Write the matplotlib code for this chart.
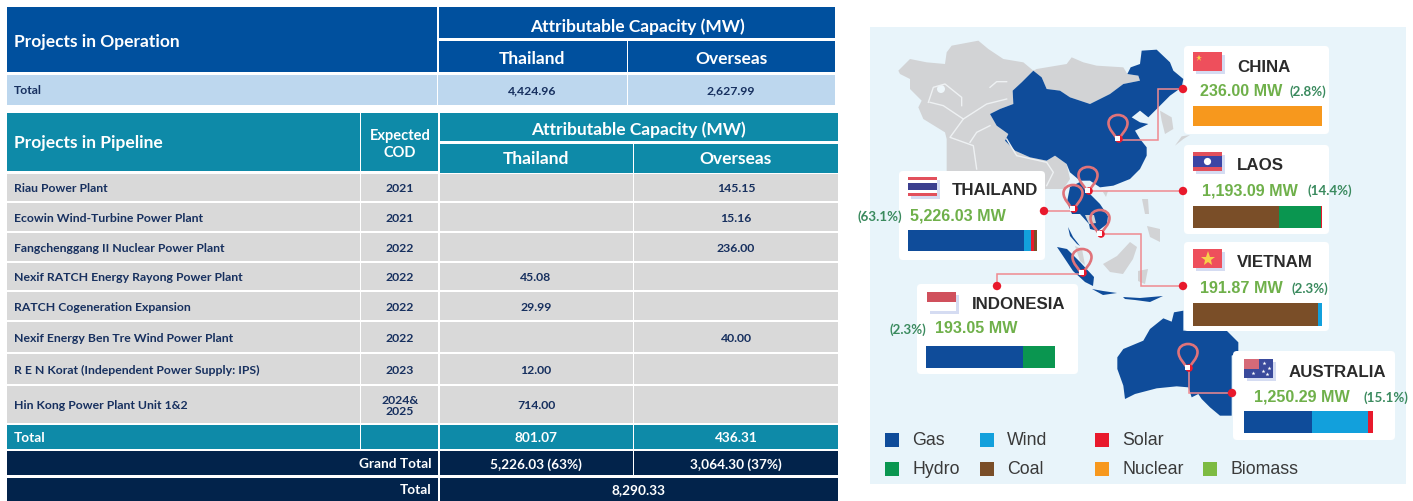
import matplotlib
matplotlib.use("Agg")
import matplotlib.pyplot as plt
from matplotlib.patches import Rectangle, FancyBboxPatch, Polygon, Circle, PathPatch
from matplotlib.path import Path

plt.rcParams['font.family'] = ['Lato', 'DejaVu Sans']

# table contents
OP_THAILAND = "4,424.96"
OP_OVERSEAS = "2,627.99"
projects = ["Riau Power Plant", "Ecowin Wind-Turbine Power Plant", "Fangchenggang II Nuclear Power Plant",
            "Nexif RATCH Energy Rayong Power Plant", "RATCH Cogeneration Expansion",
            "Nexif Energy Ben Tre Wind Power Plant", "R E N Korat (Independent Power Supply: IPS)",
            "Hin Kong Power Plant Unit 1&2"]
cod = ["2021", "2021", "2022", "2022", "2022", "2022", "2023", "2024&\n2025"]
pipe_thailand = ["", "", "", "45.08", "29.99", "", "12.00", "714.00"]
pipe_overseas = ["145.15", "15.16", "236.00", "", "", "40.00", "", ""]
pipe_total = ["801.07", "436.31"]
grand_total = ["5,226.03 (63%)", "3,064.30 (37%)"]
overall_total = "8,290.33"

# country cards, fuel shares in % of each bar
fuels = ["Gas", "Wind", "Solar", "Hydro", "Coal", "Nuclear", "Biomass"]
fuel_colors = ["#0f4c9a", "#12a0dc", "#e8192c", "#0a9650", "#7a4e28", "#f7981d", "#7dbb42"]
countries = ["CHINA", "LAOS", "THAILAND", "VIETNAM", "INDONESIA", "AUSTRALIA"]
capacity = ["236.00 MW", "1,193.09 MW", "5,226.03 MW", "191.87 MW", "193.05 MW", "1,250.29 MW"]
percent = ["(2.8%)", "(14.4%)", "(63.1%)", "(2.3%)", "(2.3%)", "(15.1%)"]
mix = [
    {"Nuclear": 100},
    {"Coal": 67, "Hydro": 32, "Solar": 1},
    {"Gas": 90, "Wind": 5, "Solar": 3, "Coal": 2},
    {"Coal": 97, "Wind": 3},
    {"Gas": 75, "Hydro": 25},
    {"Gas": 53, "Wind": 43, "Solar": 4},
]

china = [(300,225),(330,210),(370,195),(368,155),(395,130),(430,95),(455,115),(470,150),(510,155),(540,175),
         (600,195),(660,165),(700,135),(750,125),(745,110),(712,105),(722,85),(750,75),(755,35),(800,32),(840,70),
         (850,95),(880,120),(875,145),(840,170),(810,200),(775,235),(750,215),(725,235),(750,250),(775,255),
         (735,275),(750,300),(770,325),(770,350),(750,390),(720,420),(670,440),(630,445),(600,425),(570,425),
         (540,400),(530,375),(495,350),(470,365),(420,355),(375,335),(345,305),(355,285),(320,260)]
grey_asia = [(25,95),(60,60),(110,70),(165,75),(170,40),(185,20),(265,5),(295,30),(340,60),(400,70),(430,95),
             (440,90),(530,75),(545,55),(580,70),(620,80),(700,85),(712,105),(745,110),(750,125),(700,135),(660,165),
             (600,195),(540,175),(510,155),(470,150),(455,115),(430,95),(395,130),(368,155),(370,195),(330,210),
             (300,225),(320,260),(355,285),(345,305),(375,335),(420,355),(470,365),(495,350),(530,375),(540,420),
             (520,450),(170,450),(170,300),(165,280),(100,240),(85,205),(95,185),(60,150),(60,120),(30,105)]
korea = [(810,215),(845,235),(850,270),(825,285),(815,245)]
japan = [(855,320),(875,292),(900,288),(880,300)]
borders = [[(115,190),(130,145),(165,135),(215,175),(215,200)],
           [(120,190),(160,200),(220,240),(290,195),(350,180)],
           [(220,240),(180,295),(250,320),(260,390)],
           [(300,260),(260,280),(240,310)],
           [(350,300),(380,350),(470,370),(490,400),(470,440)],
           [(300,145),(320,128),(350,128)]]
# outline from the 3x crop of the south part (see south_pts)
australia = [(52,175),(70,150),(130,125),(150,90),(190,58),(215,68),(222,40),(250,35),(250,95),(380,95),(415,130),
             (415,160),(395,170),(395,350),(360,350),(330,325),(305,300),(295,285),(275,295),(265,265),(230,262),
             (170,268),(105,285),(75,300),(70,260),(52,210)]
# outlines read straight in picture pixels
indochina = [(1070,188),(1080,183),(1088,193),(1100,205),(1108,217),(1107,225),(1098,232),(1090,230),(1089,225),
             (1080,215),(1072,215),(1067,203)]
cambodia = [(1085,216),(1094,216),(1096,224),(1089,225)]
peninsula = [(1068,228),(1073,238),(1080,247),(1077,245),(1070,237)]
sumatra = [(1057,248),(1067,250),(1080,263),(1094,278),(1093,287),(1085,283),(1073,272)]
java = [(1092,290),(1103,292),(1117,294),(1103,296)]
sunda = [(1123,298),(1140,299),(1163,297),(1150,303),(1135,301),(1125,300)]
borneo = [(1103,265),(1117,257),(1130,243),(1137,248),(1133,260),(1123,275),(1110,273)]
luzon = [(1142,200),(1148,200),(1149,215),(1145,215)]
mindanao = [(1147,227),(1160,230),(1160,243),(1150,238)]
sulawesi = [(1138,272),(1148,270),(1145,285),(1138,282)]
malaya = [(1075,247),(1082,250),(1085,266),(1080,262)]
hainan = [(1103,193),(1108,192),(1106,198)]

fig = plt.figure(figsize=(14.13, 5.02), dpi=100)
ax = fig.add_axes([0, 0, 1, 1])
ax.set_xlim(0, 1413)
ax.set_ylim(502, 0)
ax.axis('off')

BLUE = "#00509e"
TEAL = "#0e8aa8"
NAVY = "#02234b"
LIGHT = "#bdd7ee"
GREY = "#d9d9d9"
DARKTXT = "#17305f"


def cell(x0, y0, x1, y1, color):
    ax.add_patch(Rectangle((x0, y0), x1 - x0, y1 - y0, facecolor=color, edgecolor='none'))


def label(x, y, s, size=8.8, color='white', ha='center', **kw):
    ax.text(x, y + 0.5, s, fontsize=size, color=color, ha=ha, va='center', fontweight='bold', **kw)


# --- operation table ---
cell(7, 8, 437, 73, BLUE)
cell(439, 8, 835, 39, BLUE)
cell(439, 42, 626.5, 73, BLUE)
cell(627.5, 42, 835, 73, BLUE)
label(14, 41, "Projects in Operation", 12.5, ha='left')
label(637, 26, "Attributable Capacity (MW)", 12.5)
label(532, 58, "Thailand", 12.5)
label(731, 59, "Overseas", 12.5)
cell(7, 76, 437, 106, LIGHT)
cell(438, 76, 626.5, 106, LIGHT)
cell(627.5, 76, 835, 106, LIGHT)
label(14, 90, "Total", 8.8, DARKTXT, ha='left')
label(532, 90, OP_THAILAND, 8.8, DARKTXT)
label(731, 90, OP_OVERSEAS, 8.8, DARKTXT)

# --- pipeline table ---
cell(7, 114, 360, 172, TEAL)
cell(361, 114, 438, 172, TEAL)
cell(440, 114, 838, 142, TEAL)
cell(440, 145, 632.5, 174, TEAL)
cell(633.5, 145, 838, 174, TEAL)
label(14, 143, "Projects in Pipeline", 12.5, ha='left')
label(400, 144, "Expected\nCOD", 10.5, linespacing=1.25)
label(638, 129, "Attributable Capacity (MW)", 12.5)
label(536, 159, "Thailand", 12.5)
label(736, 159, "Overseas", 12.5)

edges = [174, 203, 233, 263, 292, 322, 354, 386, 425]
for i, name in enumerate(projects):
    y0, y1 = edges[i] + 1, edges[i + 1] - 1
    yc = (y0 + y1) / 2
    cell(7, y0, 360, y1, GREY)
    cell(361, y0, 438, y1, GREY)
    cell(440, y0, 632.5, y1, GREY)
    cell(633.5, y0, 838, y1, GREY)
    label(14, yc, name, 8.8, DARKTXT, ha='left')
    label(400, yc, cod[i], 8.8, DARKTXT, linespacing=1.1)
    label(536, yc, pipe_thailand[i], 8.8, DARKTXT)
    label(736, yc, pipe_overseas[i], 8.8, DARKTXT)

cell(7, 426, 360, 450, TEAL)
cell(361, 426, 438, 450, TEAL)
cell(440, 426, 632.5, 450, TEAL)
cell(633.5, 426, 838, 450, TEAL)
label(14, 438, "Total", 9.8, ha='left')
label(536, 438, pipe_total[0], 9.8)
label(736, 438, pipe_total[1], 9.8)

cell(7, 452, 438, 476, NAVY)
cell(440, 452, 632.5, 476, NAVY)
cell(633.5, 452, 838, 476, NAVY)
label(432, 464, "Grand Total", 9.8, ha='right')
label(536, 464, grand_total[0], 9.8)
label(736, 464, grand_total[1], 9.8)

cell(7, 479, 438, 502, NAVY)
cell(440, 479, 838, 502, NAVY)
label(432, 490, "Total", 9.8, ha='right')
label(638, 490, overall_total, 9.8)

# --- map panel ---
cell(870, 28, 1406, 485, "#e8f4fa")


def north_pts(pts):
    return [(890 + x / 3, 40 + y / 3) for x, y in pts]


def south_pts(pts):
    return [(1100 + x / 3, 300 + y / 3) for x, y in pts]


MAP_GREY = "#d2d3d5"
MAP_BLUE = "#0f4c9a"
for shape in [north_pts(grey_asia), north_pts(korea), north_pts(japan), borneo, luzon, mindanao, sulawesi, malaya,
              hainan]:
    ax.add_patch(Polygon(shape, closed=True, facecolor=MAP_GREY, edgecolor='none'))
for line in borders:
    xs, ys = zip(*north_pts(line))
    ax.plot(xs, ys, color="#eef1f3", lw=1)
ax.add_patch(Circle((941, 90), 4, facecolor="#eef6fa", edgecolor='none'))
for shape in [north_pts(china), south_pts(australia), indochina, peninsula, sumatra, java, sunda]:
    ax.add_patch(Polygon(shape, closed=True, facecolor=MAP_BLUE, edgecolor='none'))
ax.add_patch(Polygon(cambodia, closed=True, facecolor=MAP_GREY, edgecolor='none'))

RED = "#e8192c"
LINE = "#ef8a90"


def connector(pts):
    xs, ys = zip(*pts)
    ax.plot(xs, ys, color=LINE, lw=1.1, solid_joinstyle='miter')
    ax.add_patch(Circle(pts[-1], 4.2, facecolor=RED, edgecolor='none', zorder=4))


def pin(x, y):
    # balloon shaped marker, (x, y) is the bottom tip
    verts = [(x, y), (x - 3, y - 7), (x - 9.5, y - 11), (x - 9.5, y - 18), (x - 9.5, y - 23), (x - 5, y - 26),
             (x, y - 26), (x + 5, y - 26), (x + 9.5, y - 23), (x + 9.5, y - 18), (x + 9.5, y - 11), (x + 3, y - 7),
             (x, y)]
    codes = [Path.MOVETO] + [Path.CURVE4] * 12
    ax.add_patch(PathPatch(Path(verts, codes), facecolor='none', edgecolor="#e0737a", lw=1.9, zorder=5))
    ax.add_patch(Circle((x + 1, y - 2), 3.8, facecolor=RED, edgecolor='none', zorder=5))
    ax.add_patch(Rectangle((x - 3, y - 5), 4.5, 4.5, facecolor='white', edgecolor='none', zorder=6))


connector([(1118, 141), (1158, 141), (1158, 90), (1183, 90)])
connector([(1090, 192), (1183, 192)])
connector([(1070, 212), (1044, 212)])
connector([(1102, 235), (1141, 235), (1141, 287), (1183, 287)])
connector([(1082, 275), (997, 275), (997, 287)])
connector([(1189, 371), (1189, 394), (1232, 394)])
for px, py in [(1118, 142), (1088, 194), (1073, 212), (1100, 237), (1082, 276), (1188, 371)]:
    pin(px, py)

# cards, in the same order as the country lists
card_boxes = [(1184, 47, 1329, 135), (1184, 146, 1329, 235), (899, 172, 1045, 261),
              (1184, 243, 1329, 332), (917, 285, 1078, 375), (1233, 352, 1395, 441)]
flag_pos = [(1193, 53), (1193, 153), (908, 178), (1193, 250), (927, 293), (1244, 360)]
title_pos = [(1237, 67), (1237, 166), (952, 191), (1237, 263), (972, 305), (1289, 373)]
cap_pos = [(1200, 92), (1202, 191), (910, 216), (1200, 289), (935, 329), (1254, 397)]
pct_pos = [(1290, 92), (1308, 191), (858, 217), (1291, 289), (889, 330), (1364, 398)]
bar_pos = [(1193, 107, 20), (1193, 207, 22), (908, 231, 21), (1193, 304, 23), (926, 347, 22), (1244, 412, 22)]
BAR_W = 129


def flag(name, x, y, w=29, h=19):
    ax.add_patch(Rectangle((x + 3, y + 3), w, h, facecolor="#d5dcf2", edgecolor='none', zorder=6))
    if name == "LAOS":
        bands = [(0, .22, "#e2505c"), (.22, .56, "#3b45a5"), (.78, .22, "#e2505c")]
    elif name == "THAILAND":
        bands = [(0, .16, "#e2505c"), (.16, .17, "white"), (.33, .34, "#3b3f8f"), (.67, .17, "white"),
                 (.84, .16, "#e2505c")]
    elif name == "INDONESIA":
        bands = [(0, .5, "#d0505c"), (.5, .5, "white")]
    elif name == "AUSTRALIA":
        bands = [(0, 1, "#3a4a9c")]
    else:
        bands = [(0, 1, "#ee4f5c")]
    for start, frac, col in bands:
        ax.add_patch(Rectangle((x, y + start * h), w, frac * h, facecolor=col, edgecolor='none', zorder=7))
    if name == "LAOS":
        ax.add_patch(Circle((x + w / 2, y + h / 2), 3.6, facecolor='white', edgecolor='none', zorder=8))
    if name == "CHINA":
        ax.plot(x + 6, y + 6, marker='*', ms=5, color="#f7d04a", mew=0, zorder=8)
    if name == "VIETNAM":
        ax.plot(x + w / 2, y + h / 2, marker='*', ms=11, color="#f7d04a", mew=0, zorder=8)
    if name == "AUSTRALIA":
        ax.add_patch(Rectangle((x, y), w * .5, h * .5, facecolor="#d66a78", edgecolor='none', zorder=8))
        for sx, sy in [(.7, .2), (.85, .45), (.65, .65), (.8, .8), (.3, .75)]:
            ax.plot(x + sx * w, y + sy * h, marker='*', ms=3, color='white', mew=0, zorder=8)


for i, name in enumerate(countries):
    x0, y0, x1, y1 = card_boxes[i]
    ax.add_patch(FancyBboxPatch((x0 + 2, y0 + 2), x1 - x0 - 4, y1 - y0 - 4, boxstyle="round,pad=2,rounding_size=4",
                                facecolor='white', edgecolor='none', zorder=3))
    flag(name, *flag_pos[i])
    ax.text(*title_pos[i], name, fontsize=12.2, fontweight='bold', color="#2b2b2b", va='center', ha='left',
            family='Liberation Sans', zorder=9)
    ax.text(*cap_pos[i], capacity[i], fontsize=11.6, fontweight='bold', color="#6fb04a", va='center', ha='left',
            family='Liberation Sans', zorder=9)
    ax.text(*pct_pos[i], percent[i], fontsize=9.6, fontweight='bold', color="#3a8a5e", va='center', ha='left', zorder=9)
    bx, by, bh = bar_pos[i]
    left = 0
    for fuel, share in mix[i].items():
        w = share / 100 * BAR_W
        ax.barh(by + bh / 2, w, height=bh, left=bx + left, color=fuel_colors[fuels.index(fuel)], zorder=8)
        left += w

# legend
legend_x = {"Gas": 885, "Wind": 980, "Solar": 1095, "Hydro": 885, "Coal": 980, "Nuclear": 1095, "Biomass": 1203}
legend_y = {"Gas": 441, "Wind": 441, "Solar": 441, "Hydro": 470, "Coal": 470, "Nuclear": 470, "Biomass": 470}
for fuel, col in zip(fuels, fuel_colors):
    lx, ly = legend_x[fuel], legend_y[fuel]
    ax.add_patch(Rectangle((lx, ly - 7), 14, 14, facecolor=col, edgecolor='none', zorder=3))
    ax.text(lx + 27, ly, fuel, fontsize=12.8, color="#3a3a3a", va='center', ha='left', family='Liberation Sans',
            zorder=3)

fig.savefig("out.png", dpi=100)
